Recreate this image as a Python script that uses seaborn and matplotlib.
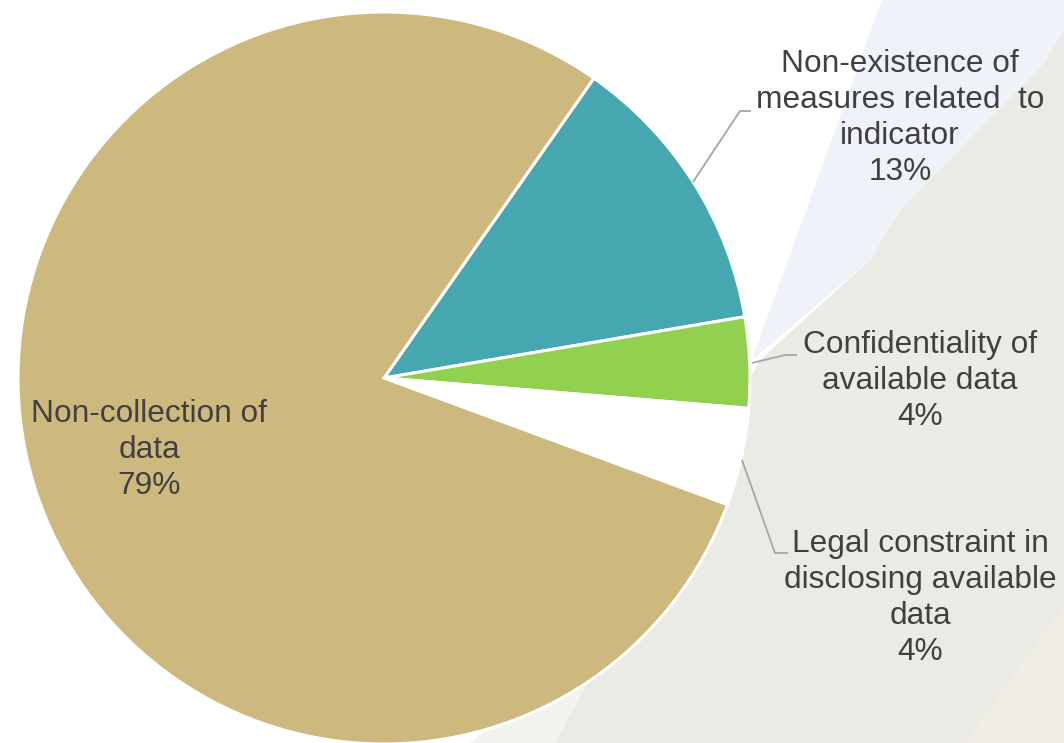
import matplotlib
matplotlib.use("Agg")
import matplotlib.pyplot as plt
import seaborn as sns

# ---- data ----
categories = [
    "Non-existence of\nmeasures related  to\nindicator",
    "Confidentiality of\navailable data",
    "Legal constraint in\ndisclosing available\ndata",
    "Non-collection of\ndata",
]
shares = [12.6, 4.0, 4.3, 79.1]
pct_labels = ["13%", "4%", "4%", "79%"]
colors = ["#46A7B0", "#92D050", "#FFFFFF", "#CDB97E"]

sns.set_theme(style="white")
plt.rcParams["font.family"] = ["Liberation Sans", "DejaVu Sans"]

W, H = 1064, 743
fig = plt.figure(figsize=(W / 100, H / 100), dpi=100)
ax = fig.add_axes([0, 0, 1, 1])


def py(y):
    return H - y


# ---- decorative background shapes ----
bx = [882, 1064, 1064, 1043, 900, 870, 752]
by = [0, 0, 30, 64, 210, 260, 360]
ax.fill(bx, [py(v) for v in by], color="#EFF2F9", zorder=0, lw=0)
gx = [1064, 1043, 900, 870, 760, 555, 1064]
gy = [30, 64, 210, 260, 360, 743, 743]
ax.fill(gx, [py(v) for v in gy], color="#EBEBE6", zorder=0.5, lw=0)
ax.fill([1064, 1064, 965], [py(605), py(743), py(743)],
        color="#F1EDE2", zorder=0.6, lw=0)
ax.fill([555, 620, 470], [py(743), py(620), py(743)],
        color="#F3F2EE", zorder=0.4, lw=0)

# ---- pie ----
wedges, _ = ax.pie(
    shares,
    colors=colors,
    startangle=55,
    counterclock=False,
    center=(384, py(378)),
    radius=366,
    frame=True,
    wedgeprops=dict(edgecolor="white", linewidth=2.2),
)
for w in wedges:
    w.set_zorder(2)
ax.set_xlim(0, W)
ax.set_ylim(0, H)
ax.set_aspect("equal")
ax.axis("off")

# ---- labels ----
txt_color = "#404040"
label_pos = [(900, 118), (920, 381), (920, 598), (149, 450)]
for cat, pct, (x, y) in zip(categories, pct_labels, label_pos):
    ax.text(x, py(y), f"{cat}\n{pct}", ha="center", va="center",
            fontsize=22.8, color=txt_color, linespacing=1.27, zorder=5)

# ---- leader lines ----
lc = "#A6A6A6"
leaders = [
    [(693, 182), (740, 111), (751, 111)],
    [(752, 363), (785, 355), (797, 355)],
    [(742, 460), (775, 553), (788, 553)],
]
for pts in leaders:
    xs = [p[0] for p in pts]
    ys = [py(p[1]) for p in pts]
    ax.plot(xs, ys, color=lc, lw=1.3, zorder=4, solid_capstyle="butt")

fig.savefig("out.png", dpi=100)
